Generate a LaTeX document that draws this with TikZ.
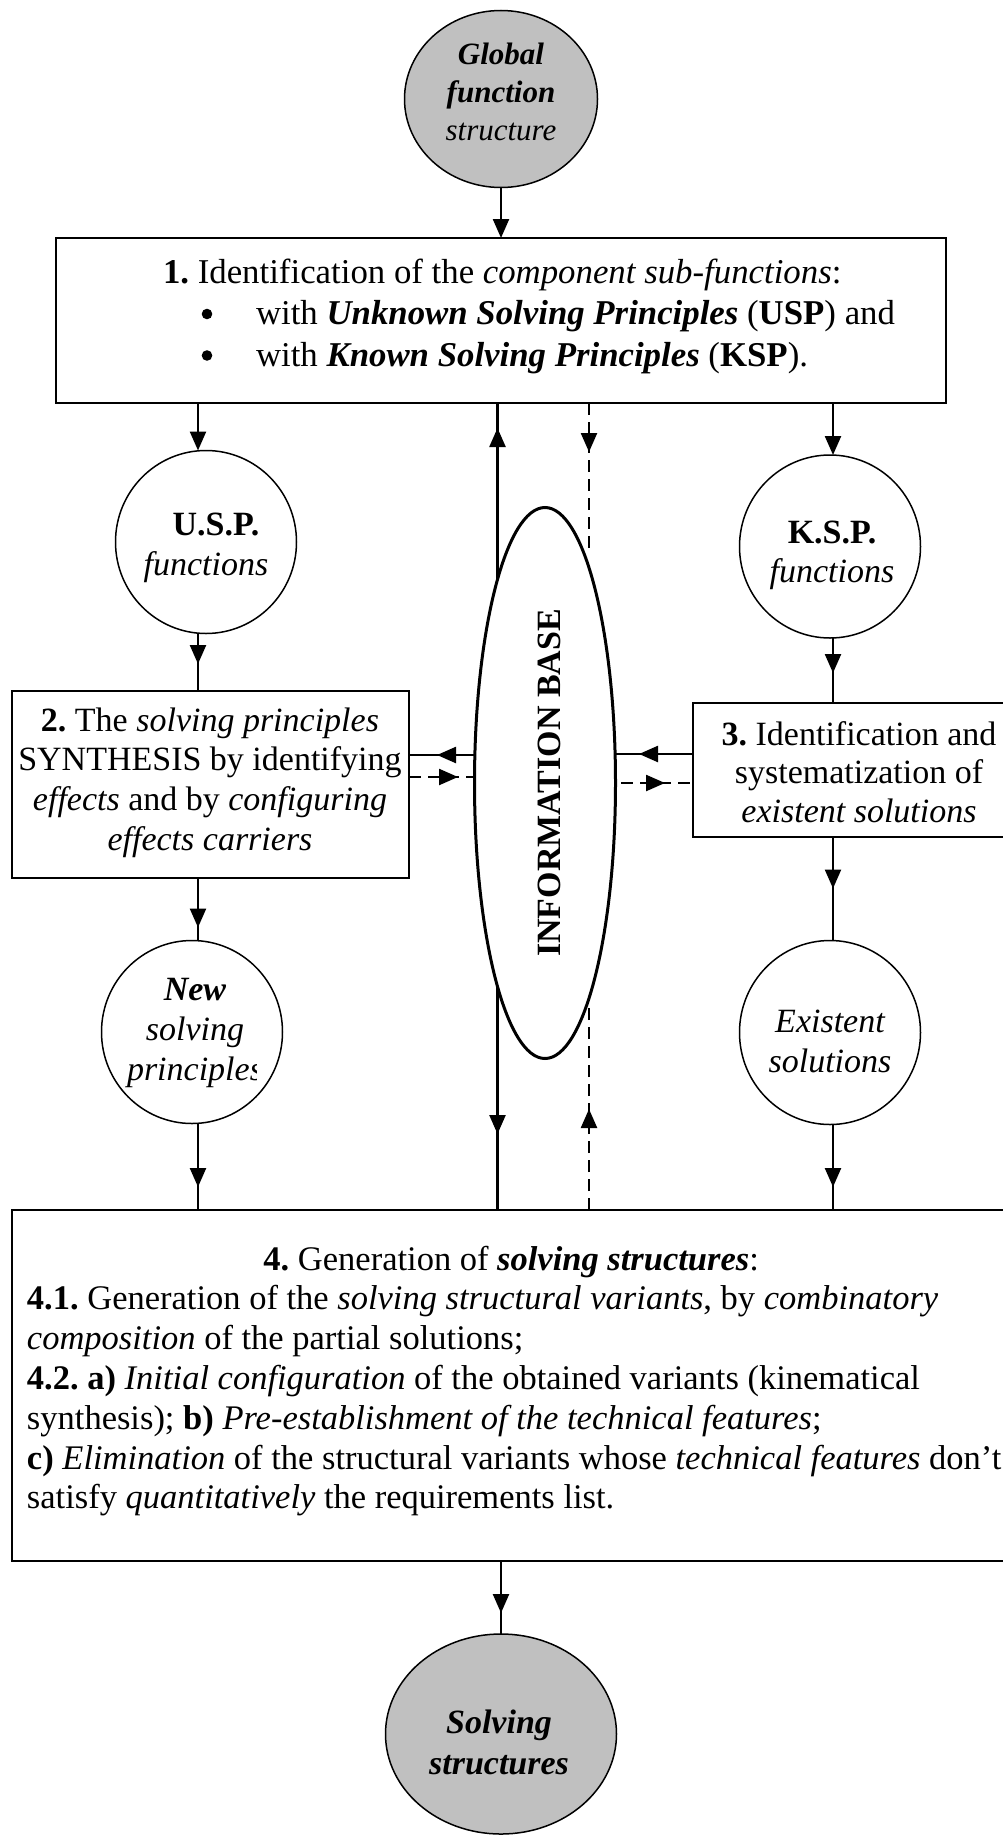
\documentclass[tikz,border=0pt]{standalone}
\usepackage{fontspec}
\setmainfont{Liberation Serif}
\usetikzlibrary{shapes.geometric,arrows.meta,decorations.markings,backgrounds,calc}

\definecolor{fillgray}{RGB}{192,192,192}

% stacked lines with a fixed baseline distance; the node baseline is the first line
\newcommand\cstack[2]{\vtop{\baselineskip=#1\lineskip=0pt\lineskiplimit=-1000pt\halign{\hfil##\hfil\cr#2\crcr}}}
\newcommand\lstack[2]{\vtop{\baselineskip=#1\lineskip=0pt\lineskiplimit=-1000pt\halign{##\hfil\cr#2\crcr}}}

\tikzset{
  every node/.style={inner sep=0pt, outer sep=0pt},
  txt/.style={font=\fontsize{34}{40}\selectfont},
  widetxt/.style={font=\fontsize{34.8}{40}\selectfont},
  listtxt/.style={font=\fontsize{34.5}{40}\selectfont},
  oval/.style={draw, ellipse, line width=1.5pt},
  greyoval/.style={oval, fill=fillgray},
  panel/.style={draw, rectangle, line width=2.2pt},
  flow/.style={line width=2.4pt},
  flowdash/.style={line width=2.4pt, dash pattern=on 12pt off 7pt},
  tipat/.style={postaction={decorate, solid, decoration={markings,
      mark=at position #1 with {\arrow{Triangle[length=19pt,width=16pt]}}}}},
  tipend/.style={-{Triangle[length=19pt,width=16pt]}},
}

\begin{document}
\frenchspacing
\begin{tikzpicture}[x=1pt,y=-1pt]
\useasboundingbox (0,0) rectangle (1003,1836);

% columns and rows used by the connectors
\coordinate (xL) at (198,0);
\coordinate (xR) at (833,0);
\coordinate (xS) at (497.5,0);
\coordinate (xD) at (589,0);
\coordinate (yA) at (0,755);
\coordinate (yB) at (0,777);
\coordinate (yC) at (0,754);
\coordinate (yD) at (0,783);

% shapes
\node[greyoval, minimum width=193pt, minimum height=177pt] (gfs) at (501,99) {};
\node[panel, minimum width=890pt, minimum height=165pt] (b1) at (501,320.5) {};
\node[oval, minimum width=181pt, minimum height=183pt] (usp) at (206,542) {};
\node[oval, minimum width=181pt, minimum height=183pt] (ksp) at (830,546.5) {};
\node[panel, minimum width=397pt, minimum height=187pt] (b2) at (210.5,784.5) {};
\node[panel, minimum width=334pt, minimum height=134pt] (b3) at (860,770) {};
\node[oval, line width=3pt, fill=white, minimum width=141pt, minimum height=551pt] (ib) at (545,783) {};
\node[oval, minimum width=181pt, minimum height=183pt] (nsp) at (192,1032) {};
\node[oval, minimum width=181pt, minimum height=184pt] (exs) at (830,1032.5) {};
\node[panel, minimum width=998pt, minimum height=351pt] (b4) at (511,1385.5) {};
\node[greyoval, minimum width=231pt, minimum height=200pt] (sol) at (501,1734) {};

% texts
\node[font=\fontsize{31}{38}\selectfont, anchor=base] (gfs-t) at (501,65)
  {\cstack{37.5pt}{\bfseries\itshape Global\cr\bfseries\itshape function\cr\itshape structure}};

\node[widetxt, anchor=base west] (b1-t) at (163,283)
  {\lstack{41.5pt}{\textbf{1.} Identification of the \textit{component sub-functions}:\cr
   \hspace*{93pt}with \textbf{\textit{Unknown Solving Principles}} (\textbf{USP}) and\cr
   \hspace*{93pt}with \textbf{\textit{Known Solving Principles}} (\textbf{KSP}).}};
% list bullets of box 1
\fill ($(b1-t.base west)+(44,31)$) circle (5.3);
\fill ($(b1-t.base west)+(44,72.5)$) circle (5.3);

\node[txt, anchor=base] (usp-t) at (206,535)
  {\cstack{40pt}{\hspace*{20pt}\bfseries U.S.P.\cr\itshape functions}};
\node[txt, anchor=base] (ksp-t) at (832,543)
  {\cstack{39pt}{\bfseries K.S.P.\cr\itshape functions}};

\node[txt, anchor=base] (b2-t) at (210,731)
  {\cstack{39.7pt}{\textbf{2.} The \textit{solving principles}\cr
   SYNTHESIS by identifying\cr
   \textit{effects} and by \textit{configuring}\cr
   \textit{effects carriers}}};

\node[txt, anchor=base] (b3-t) at (859,745)
  {\cstack{38.5pt}{\textbf{3.} Identification and\cr
   systematization of\cr
   \textit{existent solutions}}};

\node[font=\fontsize{34}{40}\selectfont\bfseries, rotate=90] (ib-t) at (549.5,783) {INFORMATION BASE};

\begin{scope}
  \clip (100,950) rectangle (256,1100);
  \node[txt, anchor=base] (nsp-t) at (195,1000)
    {\cstack{40pt}{\bfseries\itshape New\cr\itshape solving\cr\itshape principles}};
\end{scope}

\node[txt, anchor=base] (exs-t) at (830,1032)
  {\cstack{40pt}{\itshape Existent\cr\itshape solutions}};

\node[listtxt, anchor=base west] (b4-t) at (27,1270)
  {\lstack{39.8pt}{\hfil\textbf{4.} Generation of \textbf{\textit{solving structures}}:\hspace*{6pt}\cr
   \textbf{4.1.} Generation of the \textit{solving structural variants}, by \textit{combinatory}\cr
   \textit{composition} of the partial solutions;\cr
   \textbf{4.2. a)} \textit{Initial configuration} of the obtained variants (kinematical\cr
   synthesis); \textbf{b)} \textit{Pre-establishment of the technical features};\cr
   \textbf{c)} \textit{Elimination} of the structural variants whose \textit{technical features} don’t\cr
   satisfy \textit{quantitatively} the requirements list.}};

\node[txt, anchor=base] (sol-t) at (499,1733)
  {\cstack{41pt}{\bfseries\itshape Solving\cr\bfseries\itshape structures}};

% connectors
\begin{scope}[on background layer]
  \draw[flow, tipend] (gfs.south) -- (b1.north);
  \draw[flow, tipend] (b1.south -| xL) -- (usp.north -| xL);
  \draw[flow, tipat=-27pt] (usp.south -| xL) -- (b2.north -| xL);
  \draw[flow, tipat=-13pt] (b2.south -| xL) -- (nsp.north -| xL);
  \draw[flow, tipat=-23pt] (nsp.south -| xL) -- (b4.north -| xL);

  \draw[flow, tipend] (b1.south -| xR) -- (ksp.north -| xR);
  \draw[flow, tipat=-30pt] (ksp.south -| xR) -- (b3.north -| xR);
  \draw[flow, tipat=-52pt] (b3.south -| xR) -- (exs.north -| xR);
  \draw[flow, tipat=-23pt] (exs.south -| xR) -- (b4.north -| xR);

  \draw[flow, tipat=-21pt] (b4.south -| sol.north) -- (sol.north);

  % exchanges with the information base
  \draw[flow, tipat=-25pt] (ib.center -| xS) -- (b1.south -| xS);
  \draw[flow, tipat=-76pt] (ib.center -| xS) -- (b4.north -| xS);
  \draw[flowdash, tipat=49pt] (b1.south -| xD) -- ($(ib.north -| xD)+(0,40)$);
  \draw[flowdash, tipat=101pt] (b4.north -| xD) -- (ib.center -| xD);

  \draw[flow, tipat=-28pt] (ib.center |- yA) -- (b2.east |- yA);
  \draw[flowdash, tipat=49pt] (b2.east |- yB) -- (ib.center |- yB);
  \draw[flow, tipat=54pt] (b3.west |- yC) -- (ib.center |- yC);
  \draw[flowdash, tipat=-28pt] (ib.center |- yD) -- (b3.west |- yD);
\end{scope}
\end{tikzpicture}
\end{document}
